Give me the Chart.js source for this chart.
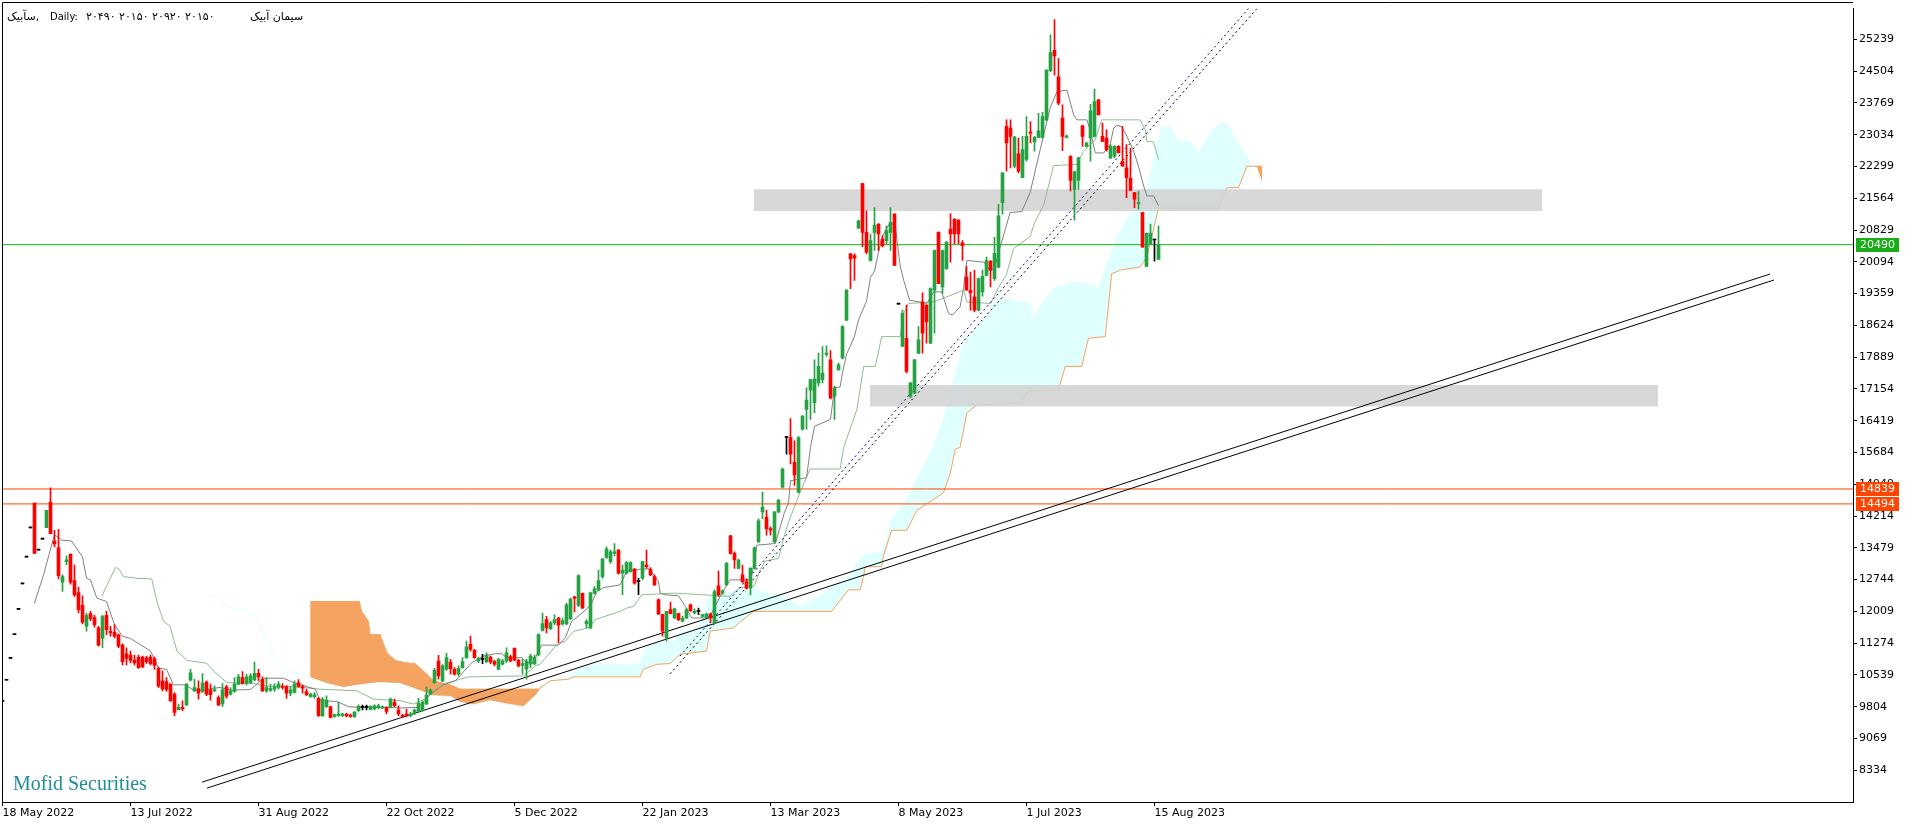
<!DOCTYPE html>
<html lang="en">
<head>
<meta charset="UTF-8" />
<title>سآبیک, Daily</title>
<script src="https://cdn.jsdelivr.net/npm/chart.js"></script>
<style>
  * { margin: 0; padding: 0; box-sizing: border-box; }
  body { background: #fff; width: 1916px; height: 826px; overflow: hidden; }
  #chartBox { position: absolute; left: 0; top: 0; width: 1916px; height: 826px; }
</style>
</head>
<body>
<div id="chartBox"><canvas id="priceChart" width="1916" height="826"></canvas></div>
<script>
// daily bars, index 0 = 18 May 2022
const xTickBars = [0, 32, 64, 96, 128, 160, 192, 224, 256, 288];
const xTickLabels = ["18 May 2022", "13 Jul 2022", "31 Aug 2022", "22 Oct 2022", "5 Dec 2022",
  "22 Jan 2023", "13 Mar 2023", "8 May 2023", "1 Jul 2023", "15 Aug 2023"];
const yTicks = [8334, 9069, 9804, 10539, 11274, 12009, 12744, 13479, 14214, 14949, 15684, 16419,
  17154, 17889, 18624, 19359, 20094, 20829, 21564, 22299, 23034, 23769, 24504, 25239];

const open = [
  9926,10416,10921,11472,12054,12644,13264,13938,14512,13425,
  13678,13946,14535,13632,13479,12682,13157,13325,12720,12445,
  12146,11664,11955,11863,11626,11381,11917,11549,11526,11465,
  11227,11028,10998,10883,10952,10952,10936,10952,10913,10691,
  10401,10385,10324,10094,9734,9788,9842,10416,10171,10224,
  10155,10370,10194,10171,10017,9865,10263,10094,10155,10324,
  10477,10339,10362,10424,10577,10439,10171,10186,10209,10247,
  10270,10270,10117,10132,10362,10270,10155,10040,10033,9995,
  9596,9803,9803,9581,9596,9604,9635,9612,9573,9711,
  9788,9788,9742,9750,9780,9773,9788,9788,9903,9727,
  9596,9635,9596,9635,9696,9711,9865,10094,10362,10860,
  10401,10669,10838,10669,10555,10708,10937,11244,11106,10861,
  10899,10845,10953,10845,10669,10785,10861,10960,11152,10876,
  10761,10669,10785,10800,10999,11565,11818,11611,11741,11856,
  11718,11718,11841,12346,12147,12423,11718,11626,12430,12507,
  12813,13257,13158,13349,13426,12890,12890,12928,12989,12698,
  12775,13081,12982,12813,12277,11933,11397,12047,11856,11956,
  11779,11856,12162,11971,12009,11894,11871,11948,11741,12599,
  12430,12622,13755,13349,13004,12851,12698,12545,13004,13618,
  14307,14192,13924,13618,14307,14881,16030,16030,15455,14766,
  16221,16680,17124,16833,17292,17369,17950,17828,16986,17599,
  17867,18747,20278,20240,20875,21901,20776,20125,20776,20967,
  20620,20584,20776,21197,19115,18135,18326,16986,17063,17981,
  19168,19092,18211,19436,20776,19513,19934,20852,21082,21059,
  20531,19742,19436,19283,18977,19400,19781,20110,19703,19971,
  21464,23225,23187,22306,22590,22038,22460,23095,22865,22973,
  22973,23378,24512,24986,24374,23417,22973,22536,21770,21977,
  23241,22766,22957,22996,23838,22996,22957,22498,22536,22766,
  22421,22268,22023,21694,21441,21234,19986,20507,20599,20150
];
const high = [
  9926,10416,10921,11472,12054,12644,13264,13938,14512,13425,
  13678,14344,14864,13884,13907,12851,13295,13348,13080,12567,
  12368,11970,12008,11917,11664,11917,12008,11664,11702,11488,
  11258,11166,11090,10998,10998,10975,10967,10998,10952,10722,
  10630,10477,10339,10132,9865,9941,10339,10668,10439,10401,
  10569,10401,10324,10286,10056,10339,10301,10247,10477,10554,
  10615,10554,10569,10837,10668,10492,10477,10324,10339,10385,
  10339,10293,10270,10401,10431,10309,10209,10117,10132,10017,
  10017,10056,9819,9635,9903,9658,9650,9635,9696,9849,
  9842,9842,9826,9849,9865,9826,9803,10002,9979,9826,
  9635,9750,9673,9750,10002,9941,10263,10209,10691,10990,
  10780,11036,10899,10708,10746,10937,11320,11435,11129,10953,
  11014,11052,10976,10876,10922,10899,11167,10999,11167,10899,
  10899,10899,11014,10999,11489,11971,11894,11779,11933,11871,
  11856,12200,12315,12354,12851,12430,11818,12453,12584,12966,
  13234,13502,13426,13579,13440,13081,13158,13158,13004,12775,
  13173,13426,13020,12851,12300,11948,12009,12224,12086,11971,
  11894,12086,12178,12070,12086,11948,11971,11971,12507,12943,
  12507,13142,13770,13387,13219,13081,12760,13020,13500,14150,
  14766,14345,13962,14320,14600,15320,16050,16466,15953,16050,
  16540,17177,17380,17828,17981,18135,18150,18043,17216,17750,
  18620,19460,20290,20278,21060,21910,21273,20738,21350,20980,
  20700,20929,21350,21210,19115,18977,19092,17300,17840,18594,
  19375,19100,19490,20370,20790,20370,20560,21212,21090,21070,
  20584,19987,19857,19895,19720,19900,20202,20120,20660,21426,
  22160,23378,23378,22996,22957,22996,23455,23340,22996,23531,
  23554,24540,25346,25698,24795,23723,23034,22550,22190,22510,
  23250,22860,23738,24090,23850,23302,23149,22804,22780,22780,
  23225,22804,22727,21700,21732,21240,20760,20966,20622,20920
];
const low = [
  9926,10416,10921,11472,12054,12644,13264,13938,13348,13425,
  13678,13946,13808,13501,12759,12468,13080,12636,12353,11970,
  11717,11549,11794,11641,11204,11166,11472,11434,11396,11166,
  10768,10768,10814,10768,10691,10707,10806,10768,10668,10247,
  10171,10155,9926,9596,9727,9711,9826,10401,10155,9979,
  10132,10056,9956,10155,9826,9803,10002,10071,10132,10309,
  10324,10309,10339,10401,10401,10155,10132,10155,10155,10209,
  10209,9995,10056,10117,10247,10117,10056,10017,10002,9581,
  9581,9788,9543,9558,9581,9573,9566,9558,9558,9696,
  9727,9727,9727,9727,9750,9757,9635,9773,9803,9596,
  9558,9573,9573,9619,9673,9696,9849,10079,10339,10440,
  10380,10640,10555,10530,10516,10692,10922,11090,10922,10823,
  10800,10823,10800,10746,10654,10769,10823,10845,10861,10723,
  10555,10440,10708,10769,10976,11550,11512,11588,11703,11282,
  11688,11703,11818,11994,12124,12070,11626,11611,12407,12484,
  12775,13234,13119,13295,12867,12392,12867,12913,12637,12392,
  12737,13004,12836,12607,11933,11435,11320,11948,11841,11795,
  11764,11841,12009,11948,11933,11871,11856,11741,11718,12354,
  12407,12607,13334,13004,12989,12660,12520,12392,12990,13600,
  14154,13770,13770,13600,14290,14860,15646,15417,14919,14750,
  16200,16221,16450,16603,17216,17292,17905,16925,16450,17580,
  17850,18730,19474,19666,20860,20447,20278,20110,20355,20355,
  20440,20500,20355,20010,19115,18135,17522,16948,17050,17970,
  17981,18211,18200,18441,19589,19360,19920,20087,20508,20508,
  20125,19436,18977,18938,18960,19300,19770,19511,19665,19960,
  21196,22192,22268,22268,22153,22038,22421,22842,22651,22960,
  22960,23360,24500,24412,23723,22666,22957,21732,21058,21770,
  22766,22750,22421,22980,23493,22881,22651,22480,22498,22613,
  22306,21579,21747,21349,21311,20430,19980,20500,20109,20150
];
const close = [
  9926,10416,10921,11472,12054,12644,13264,13938,13348,13425,
  13678,14344,13808,13570,12835,12812,13203,12682,12391,12047,
  11756,11917,11840,11702,11227,11886,11587,11511,11434,11204,
  10845,10921,10875,10814,10707,10722,10837,10798,10760,10278,
  10217,10201,9941,9673,9788,9750,10324,10584,10247,10117,
  10347,10094,10079,10201,9842,10194,10048,10171,10324,10492,
  10339,10492,10515,10577,10492,10171,10247,10224,10270,10324,
  10247,10117,10194,10324,10270,10232,10079,10094,10079,9596,
  9979,9956,9558,9619,9635,9635,9589,9581,9673,9811,
  9788,9788,9811,9826,9826,9803,9696,9979,9826,9635,
  9581,9604,9635,9727,9880,9903,10071,10186,10645,10515,
  10746,10937,10685,10555,10692,10845,11190,11129,10937,10914,
  10899,10999,10838,10785,10899,10861,11052,10861,10884,10746,
  10800,10861,10976,10937,11473,11726,11626,11741,11818,11688,
  11795,12162,12292,12315,12836,12086,11779,12438,12530,12721,
  13219,13448,13387,13387,12890,12966,13135,13135,12660,12698,
  13158,13043,12851,12622,11948,11550,12009,11956,12070,11818,
  11856,12047,12024,12009,12009,11933,11948,11856,12469,12392,
  12484,13119,13349,13196,13196,12698,12545,13004,13479,14100,
  14422,13924,13885,14307,14574,15302,16030,15646,15164,16030,
  16527,16894,17369,17384,17675,17522,17981,16948,17177,17713,
  18594,19436,20163,20180,21044,20776,20316,20584,20944,20738,
  20470,20814,21006,20010,19115,18900,17560,17292,17828,18287,
  18441,18709,19474,20355,19589,20355,20546,20738,20738,20738,
  20470,19436,19375,18977,19704,19760,20125,19894,20293,21158,
  22153,22842,22996,22980,22192,22689,22996,23072,22973,23126,
  23455,24527,24933,24856,23761,22996,23000,21977,22176,22498,
  22996,22842,23585,23800,23493,22881,22689,22766,22766,22613,
  22306,22038,21747,21541,21464,20430,20752,20752,20599,20490
];

// Ichimoku lines: [bar, price]
const tenkan = [[8,12200],[10.25,12851],[13,13785],[14.8,13655],[17.2,13639],[20,13272],[21,12774],[22,12736],
  [23.6,12315],[26,12238],[28,11702],[30,11434],[32,11381],[34.4,11242],[37,11090],[38,10898],[39,10691],[41,10668],
  [42.75,10309],[45.7,10309],[47.75,10186],[50.7,10186],[52.75,10232],[54.4,10247],[57.3,10186],[59.4,10194],[62,10201],
  [65.25,10462],[70.25,10462],[72.75,10362],[78.2,10209],[79.4,9941],[83.6,9926],[86.5,9803],[89.4,9788],[96,9788],
  [99.4,9773],[104,9788],[107,10094],[110.25,10309],[113.2,10401],[117.3,10823],[120.3,10976],[123.2,11030],[124.8,11030],
  [126,10937],[129.8,10937],[131,10823],[132.7,10823],[134,11090],[134.8,11228],[139,11228],[140.7,11397],[142.3,11779],
  [144.4,11933],[146.1,12070],[147.3,12201],[148.6,12469],[150.3,12560],[151.9,12583],[154.4,12622],[156.1,12943],
  [159.8,12989],[161.9,12989],[162.8,12851],[164,12698],[164.4,12430],[165.7,12392],[169,12369],[170.7,12124],
  [172.3,11856],[175.3,11856],[176.9,11894],[179.4,12354],[181.9,12737],[187,12736],[187.75,13042],[188.6,13540],
  [193.2,13578],[195.5,14300],[196.5,14520],[197,15030],[201,15100],[202,15800],[203,16290],[207,16450],[208,17180],
  [209.4,17200],[210,17530],[211,17950],[213,18370],[214,18750],[216,19180],[217,19740],[218,19880],[219,20320],
  [220,20690],[221.9,21006],[223.2,20929],[224.4,20010],[225.3,19666],[226.8,19206],[231.1,19130],[232.8,19398],
  [234.8,19398],[236.5,18900],[237.5,18862],[239.4,19053],[240.3,19513],[241.1,20125],[245.3,20087],[246.9,19895],
  [248,19950],[249.4,20432],[251.9,21234],[254.8,21257],[256.9,21694],[260.3,23034],[261.9,23646],[263.6,24029],
  [266.1,24067],[267.8,23493],[268.6,23378],[271.1,23378],[271.9,23149],[273.2,22613],[275.3,22613],[276.9,22804],
  [277.8,23187],[278.6,23248],[279.8,23225],[281.1,22996],[282.8,22651],[284,22306],[285.3,21847],[286.1,21617],
  [287.8,21617],[289,21388]];
const kijun = [[24.8,12353],[28.2,13019],[29,13004],[30.25,12812],[33.6,12774],[37.3,12759],[38.6,12238],[40.25,11779],
  [41.9,11664],[43.6,11090],[46.1,10875],[51.1,10806],[52.75,10630],[56.1,10362],[62.75,10339],[66.1,10278],[71.9,10278],
  [79.4,10209],[88.6,10171],[92.75,9979],[99.4,9941],[102.75,9865],[106,10002],[109.4,10310],[116.5,10493],[130.3,10516],
  [133.2,10746],[134.4,10784],[138.6,11244],[140.7,11320],[142.8,11550],[146.5,11626],[148.2,11818],[151.9,11933],
  [154.4,12009],[156.1,12086],[157.8,12124],[159.8,12392],[167.8,12430],[175.3,12392],[181.9,12354],[184,12545],
  [188,12600],[189.4,12966],[190.7,13173],[194,13234],[195.3,13700],[196.5,14076],[199.4,14766],[201.9,15302],
  [209.4,15302],[210.3,15800],[213.6,16680],[215.3,17675],[218.2,17675],[219.8,18364],[224.4,18364],[225.3,18900],
  [226.5,19130],[232.8,19168],[240.3,19436],[241.1,19168],[247,19130],[249,19500],[251,19800],[252.75,20400],
  [256.9,20680],[258,21000],[260.3,21400],[262.75,22320],[268.6,22345],[270.25,22651],[273.2,22919],[274.8,23378],
  [284.4,23378],[285.7,23149],[286.1,22881],[287.75,22865],[289,22460]];
const spanA = [[51.1,12353],[54,12391],[56.1,12123],[61.5,12008],[63.6,11855],[65.25,11472],[69.4,10783],[71.9,10630],
  [76.9,10477],[81.1,10339],[85.25,10247],[89.4,10309],[94.4,10362],[99.4,10339],[104.4,10171],[107.75,10056],
  [112,10040],[114.4,9904],[117.75,9850],[121.9,9942],[126.1,9866],[130.25,9804],[133.6,10095],[134.4,10210],
  [136.9,10402],[141.1,10478],[144.4,10692],[149.4,10800],[156.1,10769],[159.4,10800],[160.7,11167],[162.75,11244],
  [167.75,11320],[169.4,11512],[174.4,11626],[176.1,12239],[177.75,12354],[184.4,12500],[188.2,12507],[191.5,12430],
  [196.5,12315],[199,12124],[201.1,12200],[204,12353],[207.3,12583],[210.7,12736],[215.25,13310],[219.8,13387],
  [220.5,13500],[222.3,14154],[226.1,14613],[229.4,15225],[232.75,15838],[235.25,16450],[237.75,17369],[240.25,18211],
  [245.25,18747],[249.4,19283],[252.75,19206],[256.9,19130],[257.75,18747],[259.4,19092],[262.75,19474],[267.75,19628],
  [272.75,19551],[274,19474],[275.7,19934],[278.6,20661],[281.9,21197],[283.6,21350],[286.1,21800],[288.6,22804],
  [289.8,23225],[291.9,23225],[294,22881],[296.9,22881],[299,22613],[301.1,22957],[302.3,23110],[304.4,23302],
  [306.1,23302],[307.75,22996],[309,22842],[311.1,22498],[312.4,22306],[313.6,22268],[315,21885]];
const spanB = [[76.9,12238],[89.2,12238],[89.8,12008],[91.5,11779],[91.9,11472],[94.4,11472],[96.1,11051],[98.2,10875],
  [100.7,10822],[103.2,10799],[105.7,10592],[107.75,10401],[112,10309],[114.4,10210],[134,10210],[136.9,10402],
  [141.5,10440],[142.75,10493],[159.4,10493],[160.2,10669],[163.6,10784],[166.9,10800],[169.4,11014],[176,11090],
  [176.9,11550],[182.75,11626],[184.4,11760],[185.7,11856],[187.75,12009],[207.3,12009],[211.5,12507],[214.4,12507],
  [215.25,12813],[215.7,13042],[219.8,13042],[220.25,13300],[222.3,13885],[226.1,13885],[228.6,14345],[235.25,14751],
  [236.9,15187],[238.2,15761],[239.4,15800],[241.1,16603],[243.6,16779],[246.9,16795],[254.8,16833],[256.1,17086],
  [264,17139],[265.7,17675],[269.8,17675],[271.5,18326],[275.7,18364],[277.3,19819],[279.8,19911],[284.4,19972],
  [286.1,20202],[289,21335],[304,21334],[306.1,21809],[309,21809],[311.1,22306],[315,22306]];
const cloudStart = 76.9;

// drawn objects
const hLevels = [20490, 14839, 14494];
const hColors = ['#19ae19', '#ff4500', '#ff4500'];
const channelUpper = [[49.875, 8058], [441.875, 19811]];
const channelLower = [[51.125, 7920], [442.875, 19674]];
const dashNavy = [[169.375, 10975], [316.5, 26479]];
const dashBlack = [[166.875, 10562], [318.65, 26479]];
const zoneTop = [187.875, 384.875, 21771, 21272];   // from bar, to bar, top, bottom
const zoneBottom = [216.875, 413.875, 17246, 16747];

const X_MIN = -0.125, X_MAX = X_MIN + 1851 / 4;
const Y_MIN = 7599, Y_MAX = 25951;
const GREEN = '#26a244', RED = '#ff0000';

const pts = arr => arr.map(([x, y]) => ({ x, y }));
const candleColor = open.map((o, i) => close[i] > o ? GREEN : close[i] < o ? RED : '#000000');
const wicks = open.map((o, i) => ({ x: i, y: [low[i], high[i]] }));
const bodies = open.map((o, i) => ({ x: i, y: [o, close[i]] }));

function lineSet(data, color, extra) {
  return Object.assign({ type: 'line', data: pts(data), borderColor: color, borderWidth: 1,
    pointRadius: 0, tension: 0, fill: false, order: 5 }, extra || {});
}
function zoneSet(z) {
  return { type: 'line', data: [{ x: z[0], y: z[2] }, { x: z[1], y: z[2] }], borderWidth: 0,
    borderColor: 'rgba(0,0,0,0)', pointRadius: 0, fill: { value: z[3] },
    backgroundColor: 'rgba(211,211,211,0.88)', order: 8 };
}

const overlay = {
  id: 'overlay',
  afterDraw(chart) {
    const { ctx, chartArea: a, scales: { y } } = chart;
    ctx.save();
    ctx.strokeStyle = '#000';
    ctx.lineWidth = 1;
    ctx.beginPath();
    ctx.moveTo(2.5, a.bottom);
    ctx.lineTo(2.5, 2.5);
    ctx.lineTo(a.right, 2.5);
    ctx.stroke();

    ctx.font = '11px "DejaVu Sans"';
    ctx.textBaseline = 'middle';
    hLevels.forEach((v, k) => {
      const py = y.getPixelForValue(v);
      ctx.fillStyle = hColors[k];
      ctx.fillRect(a.right + 3, Math.round(py) - 7, 43, 14);
      ctx.fillStyle = '#fff';
      ctx.fillText(String(v), a.right + 7, Math.round(py));
    });

    ctx.textBaseline = 'alphabetic';
    ctx.fillStyle = '#000';
    ctx.font = '11px "DejaVu Sans"';
    ctx.fillText('سآبیک,', 7, 20);
    ctx.font = '10px "DejaVu Sans"';
    ctx.fillText('Daily:', 50, 20);
    ctx.font = '11px "DejaVu Sans"';
    ctx.fillText('۲۰۴۹۰ ۲۰۱۵۰ ۲۰۹۲۰ ۲۰۱۵۰', 86, 20);
    ctx.fillText('سیمان آبیک', 250, 20);

    ctx.font = '20px "Liberation Serif"';
    ctx.fillStyle = '#1f8c9e';
    ctx.fillText('Mofid Securities', 13, 790);
    ctx.restore();
  }
};

Chart.defaults.font.family = 'DejaVu Sans';
Chart.defaults.font.size = 11;
Chart.defaults.color = '#000';

new Chart(document.getElementById('priceChart'), {
  type: 'bar',
  data: {
    datasets: [
      lineSet(spanA.filter(p => p[0] <= cloudStart), '#e0ffff', { order: 11 }),
      lineSet(spanA.filter(p => p[0] >= cloudStart), '#e0ffff',
        { order: 10, fill: { target: '+1', above: '#e0ffff', below: '#f4a460' } }),
      lineSet(spanB, '#f4a460', { order: 9 }),
      zoneSet(zoneTop),
      zoneSet(zoneBottom),
      lineSet(tenkan, '#808080'),
      lineSet(kijun, '#8fbc8f'),
      lineSet([[X_MIN, hLevels[0]], [X_MAX, hLevels[0]]], hColors[0], { order: 4 }),
      lineSet([[X_MIN, hLevels[1]], [X_MAX, hLevels[1]]], hColors[1], { order: 4 }),
      lineSet([[X_MIN, hLevels[2]], [X_MAX, hLevels[2]]], hColors[2], { order: 4 }),
      lineSet(dashNavy, '#000080', { borderDash: [2, 3], order: 3 }),
      lineSet(dashBlack, '#000000', { borderDash: [2, 3], order: 3 }),
      lineSet(channelUpper, '#000000', { order: 3 }),
      lineSet(channelLower, '#000000', { order: 3 }),
      { type: 'bar', data: wicks, backgroundColor: candleColor, barThickness: 1, grouped: false,
        borderWidth: 0, order: 2 },
      { type: 'bar', data: bodies, backgroundColor: candleColor, barThickness: 3, grouped: false,
        borderWidth: 0, minBarLength: 1, order: 1 }
    ]
  },
  options: {
    responsive: false,
    animation: false,
    devicePixelRatio: 1,
    events: [],
    layout: { autoPadding: false, padding: { left: 2, top: 3, right: 0, bottom: 0 } },
    plugins: { legend: { display: false }, tooltip: { enabled: false } },
    scales: {
      x: {
        type: 'linear', min: X_MIN, max: X_MAX, offset: false,
        afterBuildTicks: s => { s.ticks = xTickBars.map(v => ({ value: v })); },
        afterFit: s => { s.height = 24; },
        ticks: { autoSkip: false, maxRotation: 0, align: 'start', padding: 1,
          callback: v => xTickLabels[xTickBars.indexOf(v)] },
        grid: { drawOnChartArea: false, tickLength: 4, color: '#000', offset: false },
        border: { color: '#000' }
      },
      y: {
        type: 'linear', position: 'right', min: Y_MIN, max: Y_MAX,
        afterBuildTicks: s => { s.ticks = yTicks.map(v => ({ value: v })); },
        afterFit: s => { s.width = 63; },
        ticks: { padding: 2, callback: v => String(v) },
        grid: { drawOnChartArea: false, tickLength: 4, color: '#000' },
        border: { color: '#000' }
      }
    }
  },
  plugins: [overlay]
});
</script>
</body>
</html>
